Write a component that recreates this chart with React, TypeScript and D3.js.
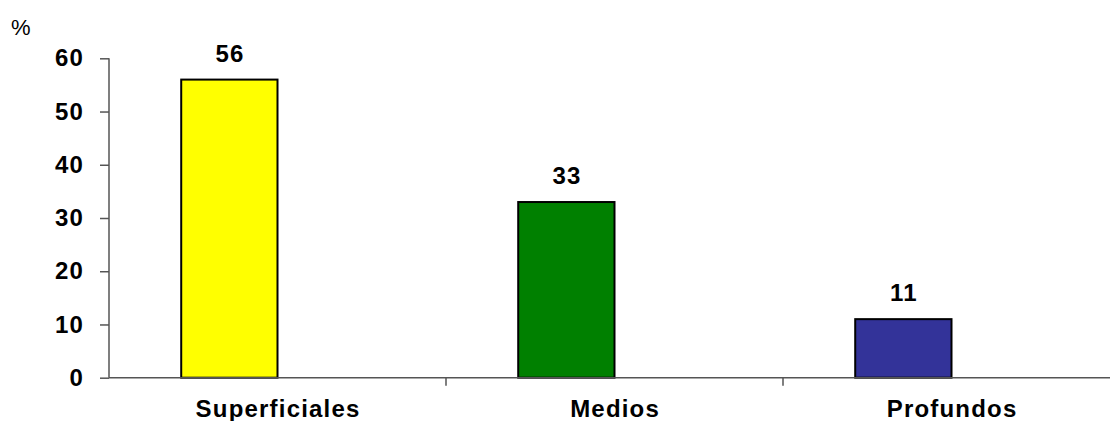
import React, { useEffect, useRef } from 'react';
import * as d3 from 'd3';

// chart values
const categories = ['Superficiales', 'Medios', 'Profundos'];
const percentages = [56, 33, 11];
const barColors = ['#ffff00', '#008000', '#333399'];
const yTicks = [0, 10, 20, 30, 40, 50, 60];
const yUnit = '%';

const App = () => {
  const svgRef = useRef<SVGSVGElement | null>(null);

  useEffect(() => {
    if (!svgRef.current) return;
    const svg = d3.select(svgRef.current);
    svg.selectAll('*').remove();

    const width = 1110;
    const height = 421;
    const font = '"Liberation Sans", Arial, sans-serif';
    const axisColor = '#555555';

    // --- Scales ---
    const x0 = d3.scaleBand<string>()
      .domain(categories)
      .range([109, 1120])
      .padding(0);

    // two slots per category (second is empty) with a 150% gap, like the original sheet
    const x1 = d3.scaleBand<string>()
      .domain(['pct', 'blank'])
      .range([0, x0.bandwidth()])
      .paddingInner(0)
      .paddingOuter(0.75);

    const y = d3.scaleLinear()
      .domain([0, 60])
      .range([377.7, 58.3]);

    svg.attr('width', width).attr('height', height);

    const boldText = (sel: any) => sel
      .style('font-family', font)
      .style('font-weight', 'bold')
      .style('font-size', '24px')
      .style('letter-spacing', '1.2px')
      .style('fill', '#000');

    // --- Bars ---
    svg.append('g')
      .selectAll('rect')
      .data(percentages)
      .enter()
      .append('rect')
      .attr('x', (d, i) => x0(categories[i])! + x1('pct')!)
      .attr('y', d => y(d))
      .attr('width', x1.bandwidth())
      .attr('height', d => y(0) - y(d))
      .attr('fill', (d, i) => barColors[i])
      .attr('stroke', '#000')
      .attr('stroke-width', 2);

    // value labels
    svg.append('g')
      .selectAll('text')
      .data(percentages)
      .enter()
      .append('text')
      .attr('x', (d, i) => x0(categories[i])! + x1('pct')! + x1.bandwidth() / 2 + 0.6)
      .attr('y', d => y(d) - 18)
      .attr('text-anchor', 'middle')
      .call(boldText)
      .text(d => d);

    // --- Y axis ---
    const yAxis = svg.append('g')
      .attr('transform', 'translate(109,0)')
      .call(d3.axisLeft(y).tickValues(yTicks).tickSize(9).tickPadding(16));
    yAxis.select('.domain').attr('stroke', axisColor).attr('stroke-width', 1.5).attr('d', `M0,${y(60)}V${y(0)}`);
    yAxis.selectAll('.tick line').attr('stroke', axisColor).attr('stroke-width', 1.5);
    yAxis.selectAll('.tick text').call(boldText);

    // --- X axis ---
    const xAxis = svg.append('g')
      .attr('transform', `translate(0,${y(0)})`);
    xAxis.append('line')
      .attr('x1', 109).attr('x2', 1120)
      .attr('stroke', axisColor).attr('stroke-width', 1.5);
    xAxis.selectAll('.cat-tick')
      .data(categories.slice(1))
      .enter()
      .append('line')
      .attr('class', 'cat-tick')
      .attr('x1', d => x0(d)!).attr('x2', d => x0(d)!)
      .attr('y1', 0).attr('y2', 8)
      .attr('stroke', axisColor).attr('stroke-width', 1.5);
    xAxis.selectAll('.cat-label')
      .data(categories)
      .enter()
      .append('text')
      .attr('class', 'cat-label')
      .attr('x', d => x0(d)! + x0.bandwidth() / 2 + 0.6)
      .attr('y', 39)
      .attr('text-anchor', 'middle')
      .call(boldText)
      .text(d => d);

    // unit label
    svg.append('text')
      .attr('x', 11)
      .attr('y', 35)
      .style('font-family', font)
      .style('font-size', '22px')
      .style('fill', '#000')
      .text(yUnit);
  }, []);

  return (
    <div style={{ position: 'absolute', left: 0, top: 0, background: '#fff' }}>
      <svg ref={svgRef} style={{ display: 'block' }} />
    </div>
  );
};

export default App;
